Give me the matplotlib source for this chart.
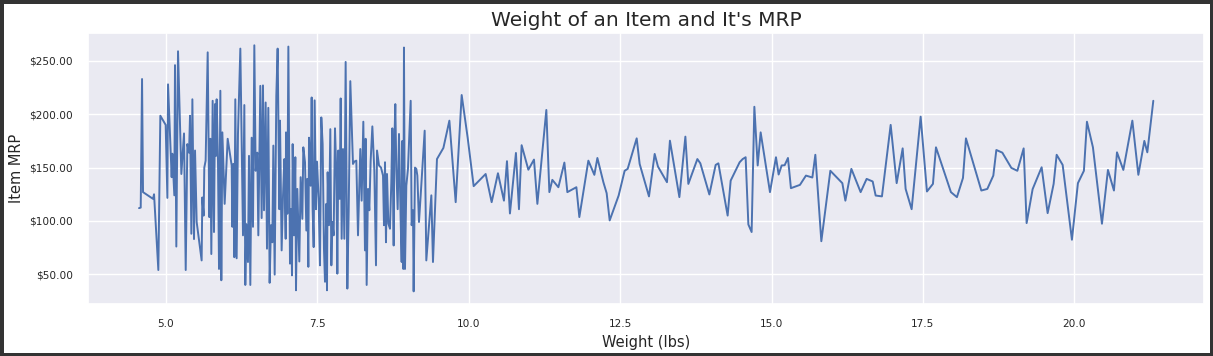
import matplotlib
matplotlib.use("Agg")
import matplotlib.pyplot as plt
import seaborn as sns
from matplotlib.ticker import FuncFormatter, MultipleLocator

# Item weight (lbs) and mean MRP
item_weight = [
    4.555, 4.583, 4.605, 4.621, 4.786, 4.803, 4.874, 4.907, 4.995, 5.023,
    5.034, 5.094, 5.105, 5.138, 5.149, 5.171, 5.199, 5.254, 5.298, 5.326,
    5.353, 5.381, 5.397, 5.419, 5.436, 5.463, 5.480, 5.507,
    5.589, 5.600, 5.622, 5.633, 5.655, 5.689, 5.716, 5.733, 5.749, 5.771,
    5.793, 5.810, 5.826, 5.837, 5.859, 5.876, 5.898, 5.914, 5.931, 5.969,
    6.019, 6.085, 6.096, 6.112, 6.129, 6.145, 6.167, 6.189, 6.228, 6.272,
    6.294, 6.310, 6.327, 6.354, 6.371, 6.393, 6.415, 6.437, 6.459, 6.481,
    6.508,
    6.525, 6.558, 6.580, 6.602, 6.619, 6.646, 6.668, 6.690, 6.712, 6.734,
    6.756, 6.773, 6.795, 6.822, 6.844, 6.872, 6.883, 6.910, 6.933, 6.955,
    6.977, 6.982, 7.004, 7.021, 7.048, 7.065, 7.081, 7.092, 7.114, 7.136,
    7.147, 7.169, 7.202, 7.224, 7.252, 7.268, 7.296, 7.318, 7.334, 7.351,
    7.362, 7.389, 7.406, 7.422, 7.439, 7.455, 7.477, 7.494,
    7.521, 7.543, 7.565, 7.587, 7.609, 7.626, 7.648, 7.659, 7.670, 7.692,
    7.714, 7.731, 7.747, 7.769, 7.791, 7.813, 7.830, 7.846, 7.868, 7.885,
    7.901, 7.923, 7.945, 7.967, 7.995, 8.017, 8.044, 8.088, 8.110, 8.143,
    8.171, 8.209, 8.231, 8.259, 8.286, 8.297, 8.314, 8.336, 8.358, 8.380,
    8.408, 8.441, 8.468, 8.485,
    8.518, 8.551, 8.584, 8.600, 8.617, 8.633, 8.650, 8.672, 8.699, 8.721,
    8.738, 8.760, 8.771, 8.787, 8.804, 8.826, 8.848, 8.875, 8.892, 8.903,
    8.919, 8.930, 8.947, 8.969, 8.996, 9.041, 9.057, 9.079, 9.090, 9.112,
    9.134, 9.151, 9.178, 9.206, 9.272, 9.299, 9.349, 9.382, 9.409, 9.475,
    9.581, 9.680, 9.784, 9.883, 9.982, 10.081, 10.279, 10.378, 10.482,
    10.581, 10.631, 10.680, 10.779, 10.829, 10.873, 10.984, 11.077, 11.133,
    11.281, 11.331, 11.380, 11.480, 11.579, 11.628, 11.777, 11.826, 11.975,
    12.074, 12.124, 12.223, 12.277, 12.327, 12.475, 12.574, 12.624, 12.773,
    12.822, 12.976, 13.070, 13.124, 13.273, 13.322, 13.478, 13.577, 13.626,
    13.775, 13.824, 13.973, 14.077, 14.122, 14.275, 14.325, 14.473, 14.523,
    14.572, 14.617, 14.671, 14.716, 14.771, 14.820, 14.974, 15.073, 15.117,
    15.167, 15.216, 15.271, 15.320, 15.469, 15.568, 15.674, 15.723, 15.822,
    15.971, 16.169, 16.219, 16.318, 16.471, 16.570, 16.670, 16.719, 16.823,
    16.967, 17.066, 17.165, 17.214, 17.313, 17.462, 17.566, 17.665, 17.715,
    17.962, 18.061, 18.161, 18.210, 18.464, 18.563, 18.662, 18.712, 18.811,
    18.960, 19.059, 19.163, 19.212, 19.311, 19.460, 19.559, 19.658, 19.708,
    19.807, 19.960, 20.059, 20.158, 20.208, 20.307, 20.456, 20.555, 20.654,
    20.704, 20.809, 20.958, 21.057, 21.156, 21.205, 21.304,
]

item_mrp = [
    112.0, 112.5, 233.0, 127.0, 120.7, 125.0, 54.0, 198.6, 190.0, 121.6,
    228.0, 141.0, 163.0, 124.0, 246.0, 76.0, 259.0, 144.0, 182.0, 54.0,
    172.0, 164.0, 198.6, 88.0, 214.0, 83.0, 166.0, 99.0,
    63.0, 122.0, 105.0, 150.0, 156.5, 258.0, 103.6, 177.0, 69.0, 212.6,
    89.6, 209.5, 161.0, 214.0, 155.0, 55.0, 222.0, 44.4, 183.0, 116.0,
    177.0, 152.0, 94.5, 153.4, 66.0, 214.0, 65.0, 181.5, 261.5, 86.5,
    208.6, 40.0, 97.0, 61.5, 161.0, 40.0, 178.0, 94.5, 264.6, 147.0,
    164.0,
    86.5, 226.6, 102.7, 227.0, 110.0, 211.0, 74.0, 206.0, 42.0, 96.0,
    80.0, 170.6, 49.7, 217.0, 261.5, 111.0, 194.0, 72.4, 124.0, 158.0,
    83.3, 183.0, 106.7, 263.4, 60.0, 111.0, 49.0, 172.0, 86.5, 159.7,
    35.0, 130.0, 62.0, 141.0, 102.0, 169.0, 155.0, 91.0, 139.4, 57.0,
    178.0, 133.0, 215.7, 111.0, 75.5, 213.0, 111.0, 155.6,
    120.7, 58.4, 197.0, 172.0, 74.0, 43.0, 116.0, 35.0, 145.6, 96.0,
    186.0, 58.4, 99.0, 86.5, 186.8, 145.6, 50.6, 166.0, 120.7, 214.8,
    83.3, 167.4, 83.3, 249.0, 36.6, 108.3, 231.0, 153.4, 155.6, 156.5,
    86.5, 167.4, 119.0, 193.0, 72.4, 177.0, 40.0, 130.0, 110.0, 156.5,
    188.6, 147.0, 58.4, 166.0,
    152.0, 150.0, 142.5, 96.0, 155.0, 80.0, 144.0, 97.5, 92.7, 136.0,
    186.8, 77.0, 172.0, 209.5, 148.8, 111.0, 181.5, 102.0, 61.5, 175.0,
    55.0, 262.5, 55.0, 133.0, 148.8, 212.6, 96.0, 110.0, 34.0, 150.0,
    148.8, 142.5, 99.0, 124.0, 184.6, 63.0, 100.0, 124.0, 61.5, 158.0,
    168.4, 194.0, 117.6, 218.0, 178.0, 132.6, 144.0, 117.6, 144.7,
    119.0, 156.0, 107.0, 163.7, 111.0, 171.0, 148.0, 157.5, 116.0,
    204.0, 127.0, 138.5, 131.6, 154.7, 127.0, 131.6, 103.6, 156.5,
    143.2, 159.0, 136.3, 126.0, 100.5, 123.8, 147.0, 148.8, 177.4,
    153.4, 123.0, 162.8, 151.0, 136.3, 175.2, 122.3, 179.0, 134.7,
    158.0, 154.0, 124.8, 152.5, 154.0, 105.0, 137.8, 155.0, 158.0,
    159.7, 96.7, 89.6, 207.0, 152.0, 183.0, 127.0, 159.7, 143.5,
    152.0, 152.2, 159.0, 130.7, 133.8, 142.5, 140.7, 162.0, 81.0,
    147.0, 135.4, 119.0, 148.8, 127.0, 139.4, 137.0, 123.8, 123.0,
    190.0, 135.4, 168.0, 130.0, 111.0, 197.7, 127.6, 134.7, 169.0,
    127.0, 122.3, 140.3, 177.4, 128.5, 130.0, 142.5, 166.5, 164.0,
    149.7, 147.0, 168.0, 98.0, 129.8, 150.3, 107.3, 134.7, 162.0,
    152.5, 82.4, 135.4, 147.0, 193.0, 169.0, 97.4, 147.8, 128.5,
    164.3, 147.8, 194.0, 143.2, 175.0, 164.3, 212.6,
]

title = "Weight of an Item and It's MRP"
x_label = "Weight (lbs)"
y_label = "Item MRP"

sns.set_theme(style="darkgrid")
plt.rcParams["font.family"] = ["DejaVu Sans"]

fig = plt.figure(figsize=(12.13, 3.56), dpi=100, facecolor="white",
                 edgecolor="#333333", linewidth=5.0)
ax = fig.add_axes([0.0728, 0.147, 0.9198, 0.7603])

ax.plot(item_weight, item_mrp, color="#4C72B0", linewidth=1.4)

ax.xaxis.set_major_locator(MultipleLocator(2.5))
ax.yaxis.set_major_locator(MultipleLocator(50))
ax.yaxis.set_major_formatter(FuncFormatter(lambda v, p: f"${v:,.2f}"))
ax.tick_params(axis="both", labelsize=7.6, colors="#262626", pad=5)

ax.set_title(title, fontsize=14.5, color="#262626", pad=5)
ax.set_xlabel(x_label, fontsize=10.5, color="#262626", labelpad=4)
ax.set_ylabel(y_label, fontsize=10.5, color="#262626", labelpad=4)

fig.savefig("out.png", dpi=100, facecolor=fig.get_facecolor(),
            edgecolor=fig.get_edgecolor())
